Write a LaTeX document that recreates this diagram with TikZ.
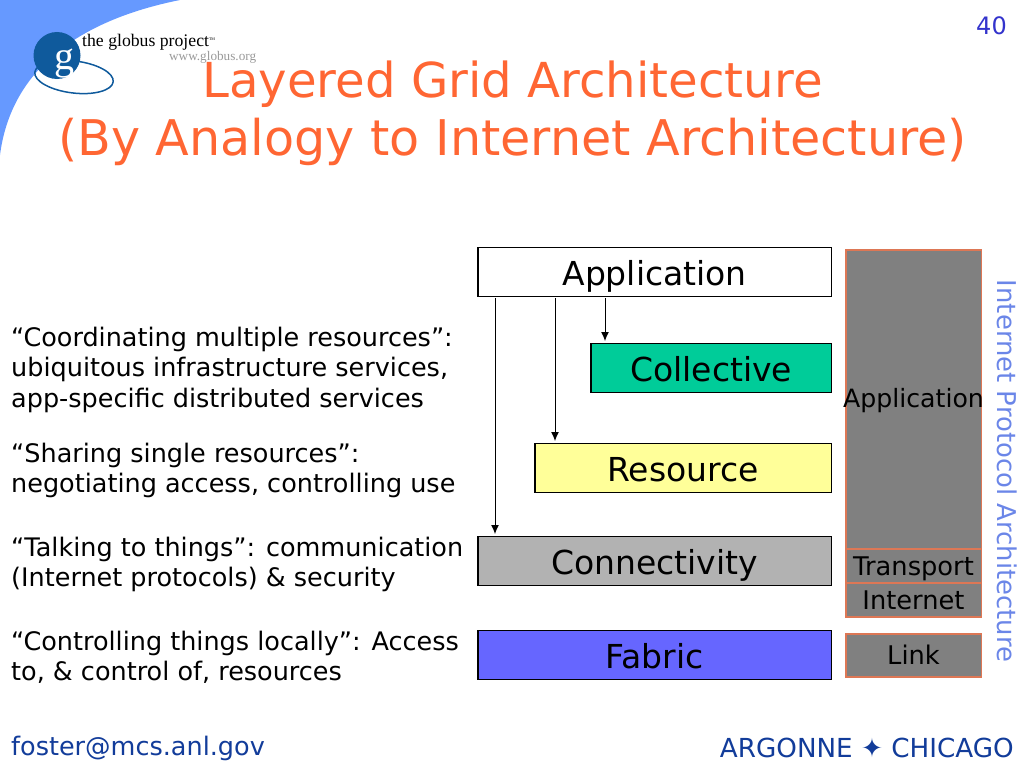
\documentclass[tikz,border=0pt]{standalone}
\usepackage{fontspec}
\usetikzlibrary{arrows.meta}
\setmainfont{DejaVu Sans}
\newfontfamily\logofont{Liberation Serif}
\definecolor{titlecol}{HTML}{FF6633}
\definecolor{skycol}{HTML}{6699FF}
\definecolor{logocol}{HTML}{0F5A9C}
\definecolor{edgecol}{HTML}{DD7755}
\definecolor{sidecol}{HTML}{6B86E8}
\definecolor{footcol}{HTML}{123C9A}
\definecolor{numcol}{HTML}{3333CC}
\definecolor{collcol}{HTML}{00CC99}
\definecolor{rescol}{HTML}{FFFF99}
\definecolor{conncol}{HTML}{B2B2B2}
\definecolor{fabcol}{HTML}{6666FF}
\tikzset{
  layer/.style={draw=black, line width=1.2pt, anchor=north east, minimum height=49pt,
    inner sep=0pt, text height=30pt, text depth=4pt, font=\fontsize{33}{33}\selectfont},
  stack/.style={draw=edgecol, line width=1.5pt, fill=gray, anchor=north west,
    minimum width=135.5pt, inner sep=0pt, text height=23pt, text depth=4pt,
    font=\fontsize{25.7}{25.7}\selectfont},
  note/.style={anchor=north west, align=left, inner sep=0pt, font=\fontsize{25.5}{30.5}\selectfont},
  arr/.style={-{Latex[length=9pt,width=8pt]}, line width=1pt},
}
\begin{document}
\begin{tikzpicture}[x=1pt,y=-1pt]
  \useasboundingbox (0,0) rectangle (1024,768);
  % corner
  \fill [skycol] (0,0) -- (180,0) .. controls (90,18) and (12,62) .. (0,155) -- cycle;

  % logo
  \draw [logocol, line width=1.5pt, rotate around={-7:(74,77)}] (74,77) ellipse (39.5 and 16);
  \fill [logocol] (57,55.5) circle (23.5);
  \node [anchor=base, inner sep=0pt] (logog) at (64,69) {\logofont\fontsize{40}{40}\selectfont\color{white}g};
  \node [anchor=west, inner sep=0pt] (logoname) at (82,42.5)
    {\logofont\fontsize{17.7}{17.7}\selectfont the globus project\raisebox{6pt}{\fontsize{4}{4}\selectfont TM}};
  \node [anchor=west, inner sep=0pt, text=gray!80] (logourl) at (169,57)
    {\logofont\fontsize{13.2}{13.2}\selectfont www.globus.org};

  % title
  \node (title1) at (512.5,84) {\fontsize{48.2}{48.2}\selectfont\color{titlecol}Layered Grid Architecture};
  \node (title2) at (512.5,142) {\fontsize{49.2}{49.2}\selectfont\color{titlecol}(By Analogy to Internet Architecture)};
  \node (pagenum) at (991.5,26) {\fontsize{24}{24}\selectfont\color{numcol}40};

  % grid layers
  \node [layer, fill=white, minimum width=353.5pt] (app) at (832,247) {Application};
  \node [layer, fill=collcol, minimum width=240.5pt] (coll) at (832,343) {Collective};
  \node [layer, fill=rescol, minimum width=296.5pt] (res) at (832,443) {Resource};
  \node [layer, fill=conncol, minimum width=353.5pt] (conn) at (832,536) {Connectivity};
  \node [layer, fill=fabcol, minimum width=353.5pt] (fab) at (832,630) {Fabric};

  \coordinate (collx) at (605,0);
  \coordinate (resx) at (555,0);
  \coordinate (connx) at (495,0);
  \draw [arr] ([yshift=-1pt]app.south -| collx) -- ([yshift=2pt]coll.north -| collx);
  \draw [arr] ([yshift=-1pt]app.south -| resx) -- ([yshift=2pt]res.north -| resx);
  \draw [arr] ([yshift=-1pt]app.south -| connx) -- ([yshift=2pt]conn.north -| connx);

  % internet stack
  \node [stack, minimum height=299pt] (sapp) at (845,249) {};
  \node [font=\fontsize{25.2}{25.2}\selectfont] (sapplabel) at (913.5,401) {Application};
  \node [stack, minimum height=34pt] (stran) at (845,548) {Transport};
  \node [stack, minimum height=34pt] (sint) at (845,582) {Internet};
  \node [stack, minimum height=43pt] (slink) at (845,633) {Link};
  \node [rotate=-90, text=sidecol, font=\fontsize{25.9}{25.9}\selectfont] (side) at (1007,471)
    {Internet Protocol Architecture};

  % notes
  \node [note] (n1) at (11,326.5) {“Coordinating multiple resources”:\\ubiquitous infrastructure services,\\app-specific distributed services};
  \node [note] (n2) at (11,442.5) {“Sharing single resources”:\\negotiating access, controlling use};
  \node [note] (n3) at (11,536.5) {“Talking to things”: communication\\(Internet protocols) \& security};
  \node [note] (n4) at (11,630.5) {“Controlling things locally”: Access\\to, \& control of, resources};

  % footer
  \node [anchor=west, inner sep=0pt, text=footcol, font=\fontsize{25.5}{25.5}\selectfont] (mail) at (11,748) {foster@mcs.anl.gov};
  \node [anchor=east, inner sep=0pt, text=footcol, font=\fontsize{26.2}{26.2}\selectfont] (lab) at (1014,748) {ARGONNE ✦ CHICAGO};
\end{tikzpicture}
\end{document}
